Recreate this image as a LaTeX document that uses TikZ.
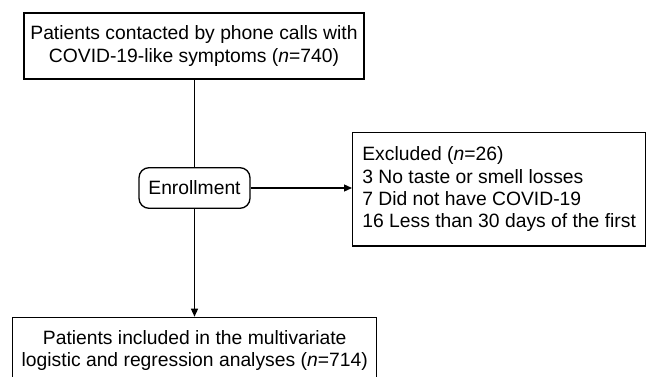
\documentclass[tikz,border=0pt]{standalone}
\usepackage{fontspec}
\setmainfont{Liberation Sans}
\usetikzlibrary{arrows.meta}
\begin{document}
\begin{tikzpicture}[x=1pt,y=-1pt,
  every node/.style={font=\fontsize{19.3}{22.3}\selectfont, line width=1.3pt, inner sep=0pt},
  box/.style={draw, rectangle},
  roundbox/.style={draw, rectangle, rounded corners=10pt},
  conn/.style={line width=1.3pt},
  arr/.style={conn, -{Triangle[length=8pt,width=7pt]}}]
\useasboundingbox (0,0) rectangle (650,377);
\clip (0,0) rectangle (650,377);
\node[box, minimum width=340pt, minimum height=66pt, align=center] (top) at (194,46)
  {Patients contacted by phone calls with\\ COVID-19-like symptoms (\textit{n}=740)};
\node[roundbox, minimum width=111pt, minimum height=40.6pt] (enr) at (194.5,188) {Enrollment};
\node[box, anchor=west, inner xsep=9.7pt, minimum height=113.5pt, align=left] (exc) at (352,189.2)
  {Excluded (\textit{n}=26)\\3 No taste or smell losses\\7 Did not have COVID-19\\16 Less than 30 days of the first};
\node[box, anchor=north, minimum width=364pt, minimum height=66pt, align=center] (bot) at (194.7,316.7)
  {Patients included in the multivariate\\logistic and regression analyses (\textit{n}=714)};
\draw[conn] (top.south -| enr.north) -- (enr.north);
\draw[arr] (enr.south) -- (enr.south |- bot.north);
\draw[arr] (enr.east) -- (enr.east -| exc.west);
\end{tikzpicture}
\end{document}
